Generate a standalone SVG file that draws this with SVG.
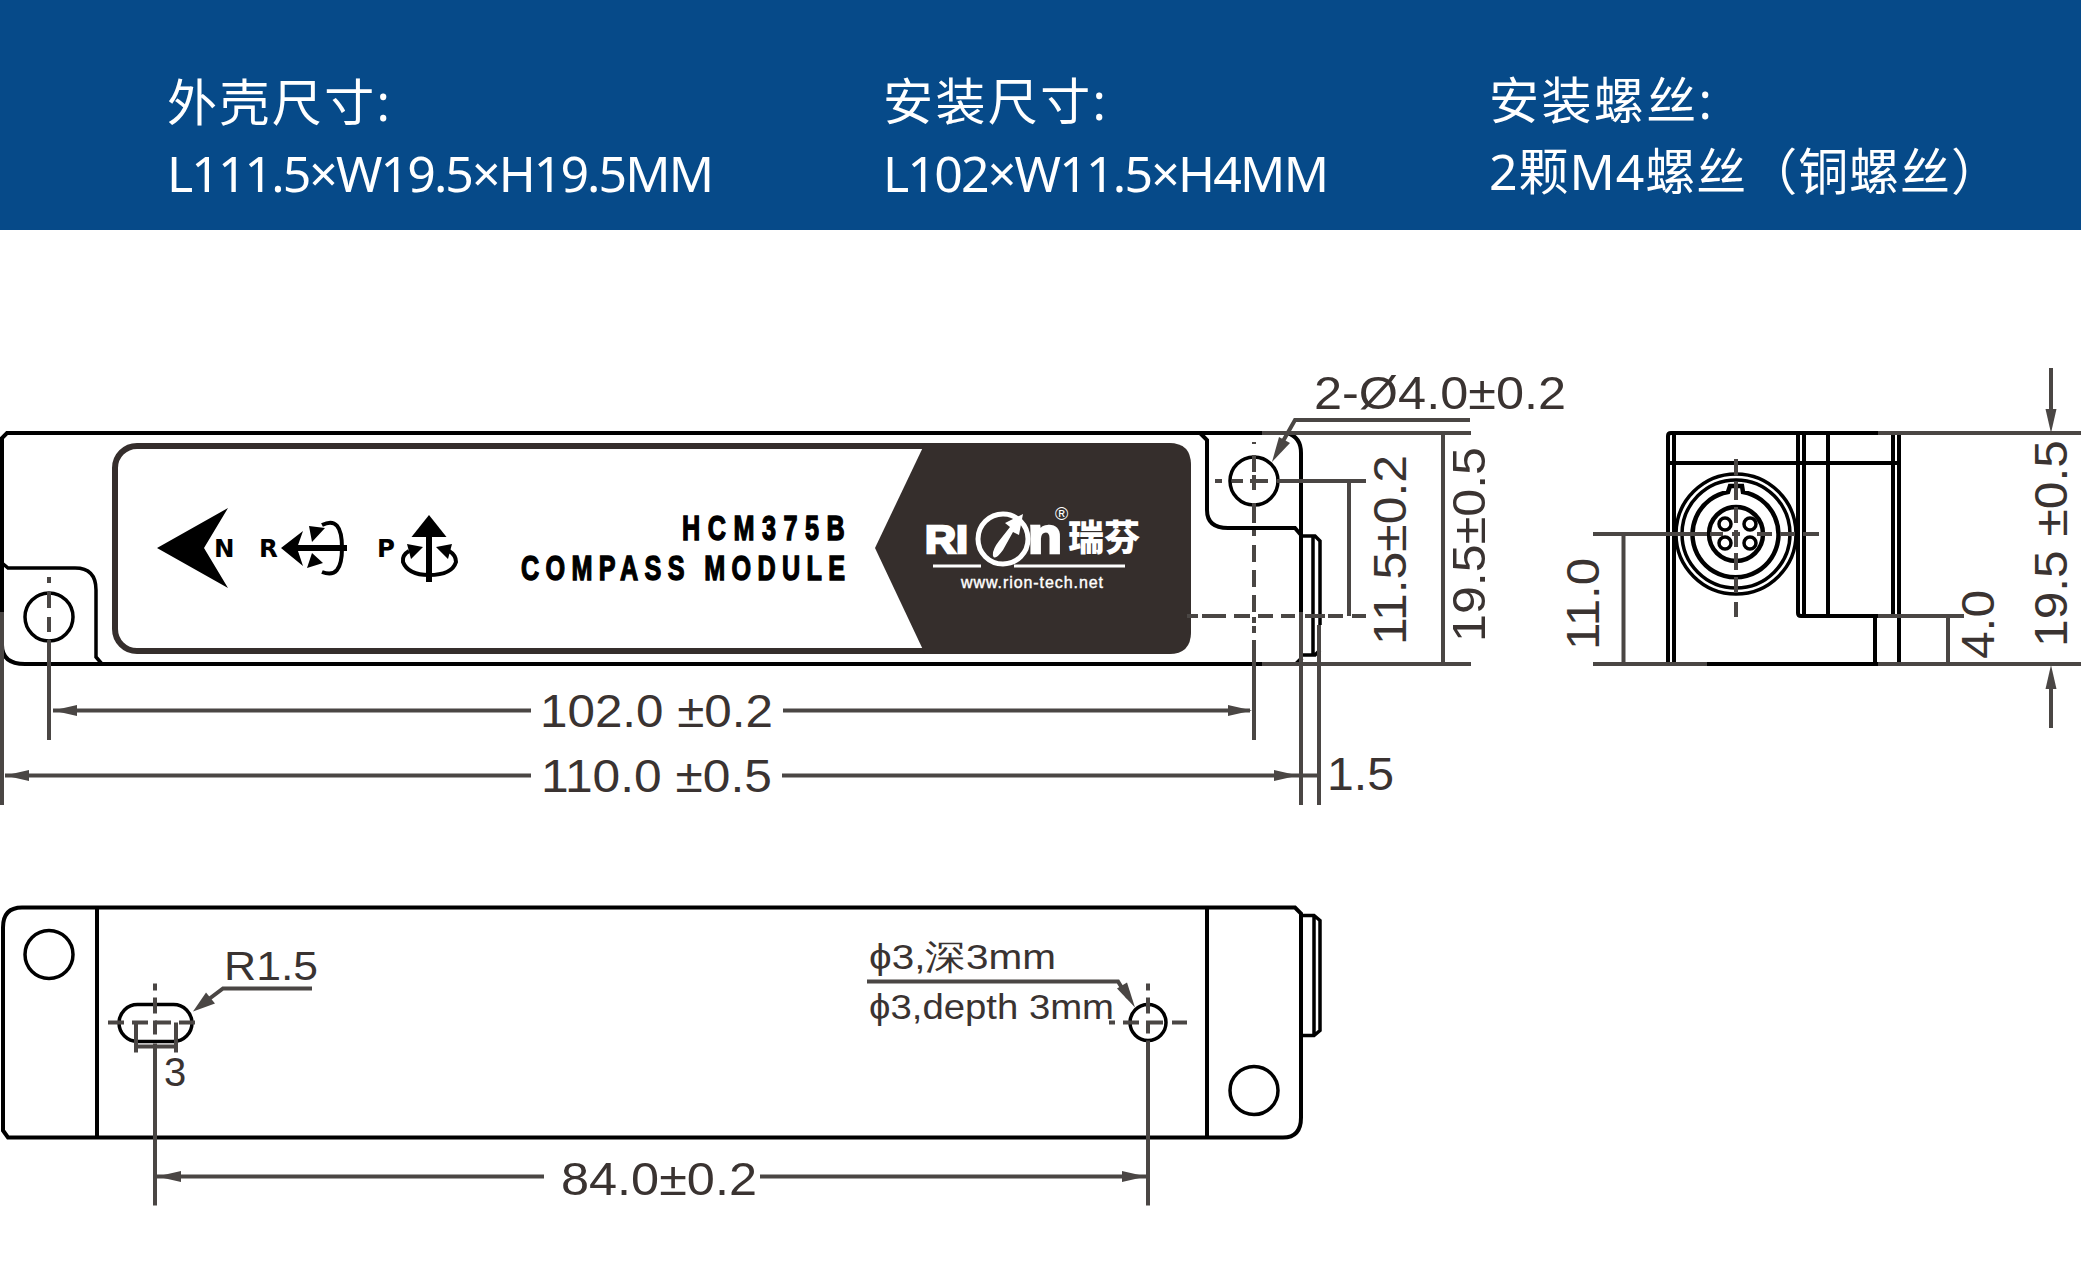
<svg xmlns="http://www.w3.org/2000/svg" width="2081" height="1275" viewBox="0 0 2081 1275">
<style>
.hd{font-family:"Noto Sans","Noto Sans CJK SC",sans-serif;font-size:50px;fill:#fff}
.k{fill:none;stroke:#000;stroke-width:4}
.k3{fill:none;stroke:#000;stroke-width:3.5}
.g{fill:none;stroke:#4a4644;stroke-width:4}
.af{fill:#4a4644}
.dim{font-family:"Liberation Sans","DejaVu Sans",sans-serif;font-size:46px;fill:#3a3331}
.small{font-size:35px}
.ico{font-family:"DejaVu Sans",sans-serif;font-weight:700;font-size:24.5px;fill:#000}
.lab{font-family:"Liberation Sans",sans-serif;font-weight:700;font-size:35px;fill:#000;stroke:#000;stroke-width:1.4}
.w{fill:#fff}
</style>
<defs>
<path id="ah" d="M0 0L24 -5.500V5.500Z"/>
</defs>
<g id="header">
<rect width="2081" height="230" fill="#064a89"/>
<text class="hd" x="167" y="121" textLength="223">外壳尺寸:</text>
<text class="hd" x="167" y="192" textLength="547">L111.5×W19.5×H19.5MM</text>
<text class="hd" x="883" y="120" textLength="223">安装尺寸:</text>
<text class="hd" x="883" y="192" textLength="446">L102×W11.5×H4MM</text>
<text class="hd" x="1489" y="119" textLength="223">安装螺丝:</text>
<text class="hd" x="1489" y="190" textLength="512">2颗M4螺丝（铜螺丝）</text>
</g>
<g id="top-view">
<g id="top-outline">
<path class="k" d="M2 612V438L7 433H1262M1200 433L1207 440V510Q1207 528 1228 528H1295L1301 535"/>
<path class="k" d="M1287 433Q1301 437 1301 453V612"/>
<path class="k" d="M1262 664H25Q2 664 2 645M1296 664L1302 658"/>
<path class="k3" d="M2 563L8 568H75Q96 568 96 590V657L102 664"/>
<path class="k3" d="M1302 536H1315L1320 541V625M1313 536V655M1302 655H1315L1320 650"/>
<circle class="k3" cx="49" cy="617" r="24"/>
<circle class="k3" cx="1254" cy="481" r="24"/>
</g>
<g id="label">
<rect x="115" y="446" width="1073" height="205" rx="22" fill="#fff" stroke="#352e2c" stroke-width="6"/>
<path d="M925 443L875 548L925 654H1169Q1191 654 1191 632V465Q1191 443 1169 443Z" fill="#352e2c"/>
<path d="M157 548L228 508L204 548L228 588Z"/>
<text class="ico" x="214" y="557">N</text>
<text class="ico" x="259" y="557">R</text>
<text class="ico" x="377" y="557">P</text>
<path d="M281 548L303 531L297 548L303 566Z"/>
<path d="M295 548H347" stroke="#000" stroke-width="6"/>
<path d="M322 525Q342 515 342 548Q342 580 322 572" fill="none" stroke="#000" stroke-width="4"/>
<path d="M309 526L325 528L312 542ZM312 553L323 563L307 568Z"/>
<path d="M429 515L446.500 537H411.500Z"/>
<path d="M429 535V582" stroke="#000" stroke-width="6"/>
<path d="M409 551Q402 555 403 562Q408 575 429 575Q452 575 456 562Q456 555 449 551" fill="none" stroke="#000" stroke-width="4"/>
<path d="M407 544L423 547L411 559ZM452 544L436 547L448 559Z"/>
<text class="lab" transform="translate(682 540) scale(.72 1)" textLength="226">HCM375B</text>
<text class="lab" transform="translate(521 580) scale(.72 1)" textLength="450" xml:space="preserve">COMPASS MODULE</text>
</g>
<g id="logo">
<text class="w" x="925" y="553" font-family="Liberation Sans,sans-serif" font-weight="700" font-size="39" textLength="43" lengthAdjust="spacingAndGlyphs" stroke="#fff" stroke-width="2.500">RI</text>
<text class="w" x="1028" y="553" font-family="Liberation Sans,sans-serif" font-weight="700" font-size="50" textLength="34" lengthAdjust="spacingAndGlyphs" stroke="#fff" stroke-width="2.500">n</text>
<circle cx="1003" cy="539" r="25" fill="#352e2c" stroke="#fff" stroke-width="5"/>
<path d="M1023 514L1019 535L1013 532L1003 550Q995 561 993 556Q992 550 999 541L1010 527L1005 523Z" class="w"/>
<text class="w" x="1055" y="520" font-family="Liberation Sans,sans-serif" font-size="18">®</text>
<text class="w" x="1068" y="551" font-family="Noto Sans CJK SC,sans-serif" font-weight="900" font-size="36">瑞芬</text>
<path d="M933 566H981M1014 566H1125" stroke="#fff" stroke-width="3"/>
<text class="w" x="961" y="588" font-family="Liberation Sans,sans-serif" font-size="16" stroke="#fff" stroke-width=".4" textLength="142">www.rion-tech.net</text>
</g>
<g id="top-dimensions">
<path class="g" d="M49 577V583M49 592V608M49 617V632M49 640V740"/>
<path class="g" d="M2 612V805M1254 442V444M1254 455V472M1254 475V490M1254 503V523M1254 530V536M1254 545V562M1254 570V587M1254 595V612M1254 617V623M1254 626V633M1254 640V740M1301 612V805M1319 625V805"/>
<path class="g" d="M1215 481H1222M1232 481H1243M1250 481H1268M1277 481H1366M1349 481V616"/>
<path class="g" d="M1187 616H1198M1202 616H1226M1234 616H1250M1258 616H1273M1281 616H1295M1305 616H1325M1328 616H1343M1352 616H1366"/>
<path class="g" d="M1262 433H1471M1262 664H1471M1443 433V664"/>
<path class="g" d="M1470 420H1295L1278 450"/>
<path class="af" d="M1272 462L1279 437L1290 443Z"/>
<path class="g" d="M53 710.500H531M783 710.500H1250M5 775.500H531M782 775.500H1319"/>
<use href="#ah" class="af" transform="translate(53 710.500)"/>
<use href="#ah" class="af" transform="translate(1252 710.500) rotate(180)"/>
<use href="#ah" class="af" transform="translate(5 775.500)"/>
<use href="#ah" class="af" transform="translate(1298 775.500) rotate(180)"/>
<text class="dim" x="1314" y="409" textLength="252" lengthAdjust="spacingAndGlyphs">2-Ø4.0±0.2</text>
<text class="dim" x="540" y="727" textLength="233" lengthAdjust="spacingAndGlyphs" xml:space="preserve">102.0 ±0.2</text>
<text class="dim" x="541" y="792" textLength="231" lengthAdjust="spacingAndGlyphs" xml:space="preserve">110.0 ±0.5</text>
<text class="dim" x="1327" y="790" textLength="67" lengthAdjust="spacingAndGlyphs">1.5</text>
<text class="dim" transform="translate(1406 645) rotate(-90)" textLength="190" lengthAdjust="spacingAndGlyphs">11.5±0.2</text>
<text class="dim" transform="translate(1485 642) rotate(-90)" textLength="195" lengthAdjust="spacingAndGlyphs">19.5±0.5</text>
</g>
</g>
<g id="side-view">
<path class="k" d="M1668 664V436Q1668 433 1671 433H1878M1674 433V664M1668 463H1899M1798 433V613Q1798 616 1801 616H1878M1804 433V616M1828 433V616M1893 433V616M1899 433V664M1875 616V664M1707 664H1878"/>
<g id="connector" class="k3">
<circle cx="1736" cy="534" r="60"/>
<circle cx="1736" cy="534" r="54"/>
<path stroke-width="4.500" d="M1743 492A43 43 0 1 1 1728 492L1730 486H1742Z"/>
<circle stroke-width="4.500" cx="1736" cy="534" r="27"/>
<circle cx="1725" cy="524" r="6"/>
<circle cx="1750" cy="524" r="6"/>
<circle cx="1725" cy="543" r="6"/>
<circle cx="1750" cy="543" r="6"/>
</g>
<g id="side-dimensions">
<path class="g" d="M1593 534H1707M1710 534H1723M1732 534H1740M1757 534H1772M1780 534H1795M1803 534H1819"/>
<path class="g" d="M1736 459V475M1736 482V500M1736 507V523M1736 530V547M1736 553V570M1736 577V593M1736 602V617"/>
<path class="g" d="M1593 664H1707M1878 664H2081M1878 433H2081M1878 616H1964M1948 616V664M1623.500 534V664"/>
<path class="g" d="M2051 368V410M2051 688V728"/>
<use href="#ah" class="af" transform="translate(2051 433) rotate(-90)"/>
<use href="#ah" class="af" transform="translate(2051 665) rotate(90)"/>
<text class="dim" transform="translate(1599 650) rotate(-90)" textLength="92" lengthAdjust="spacingAndGlyphs">11.0</text>
<text class="dim" transform="translate(1994 659) rotate(-90)" textLength="69" lengthAdjust="spacingAndGlyphs">4.0</text>
<text class="dim" transform="translate(2067 647) rotate(-90)" textLength="207" lengthAdjust="spacingAndGlyphs" xml:space="preserve">19.5 ±0.5</text>
</g>
</g>
<g id="bottom-view" transform="translate(0 .5)">
<g id="bottom-outline">
<path class="k" d="M22 907H1295L1301 913V1117Q1301 1137 1283 1137H8L3 1130V927Q3 907 22 907Z"/>
<path class="k" d="M97 907V1137M1207 907V1137"/>
<path class="k3" d="M1302 915H1314L1320 920V1030L1314 1035H1302M1314 915V1035"/>
<circle class="k3" cx="49" cy="954" r="24"/>
<circle class="k3" cx="1254" cy="1090" r="24"/>
<rect class="k3" x="119" y="1004" width="73" height="37" rx="18.500"/>
<circle class="k3" cx="1148" cy="1022" r="18"/>
</g>
<g id="bottom-dimensions">
<path class="g" d="M108 1022H124M132 1022H148M155 1022H171M179 1022H195"/>
<path class="g" d="M155 983V990M155 997V1013M155 1020V1034M155 1043V1205M136 1022V1052M176 1022V1052M136 1046H176"/>
<path class="g" d="M1109 1022H1115M1123 1022H1139M1148 1022H1163M1172 1022H1187M1148 983V990M1148 997V1013M1148 1020V1033M1148 1040V1205"/>
<path class="g" d="M312 988H223L203 1003M867 981H1118L1128 997"/>
<path class="af" d="M193 1011L206 992L215 1003Z"/>
<path class="af" d="M1135 1007L1117 988L1127 982Z"/>
<path class="g" d="M157 1176H544M760 1176H1146"/>
<use href="#ah" class="af" transform="translate(157 1176)"/>
<use href="#ah" class="af" transform="translate(1146 1176) rotate(180)"/>
<text class="dim" x="224" y="979" style="font-size:40px" textLength="94" lengthAdjust="spacingAndGlyphs">R1.5</text>
<text class="dim" x="164" y="1085" style="font-size:40px">3</text>
<text class="dim small" x="869" y="968" textLength="187" lengthAdjust="spacingAndGlyphs">ϕ3,深3mm</text>
<text class="dim small" x="869" y="1018" textLength="245" lengthAdjust="spacingAndGlyphs" xml:space="preserve">ϕ3,depth 3mm</text>
<text class="dim" x="561" y="1194" textLength="196" lengthAdjust="spacingAndGlyphs">84.0±0.2</text>
</g>
</g>
</svg>
